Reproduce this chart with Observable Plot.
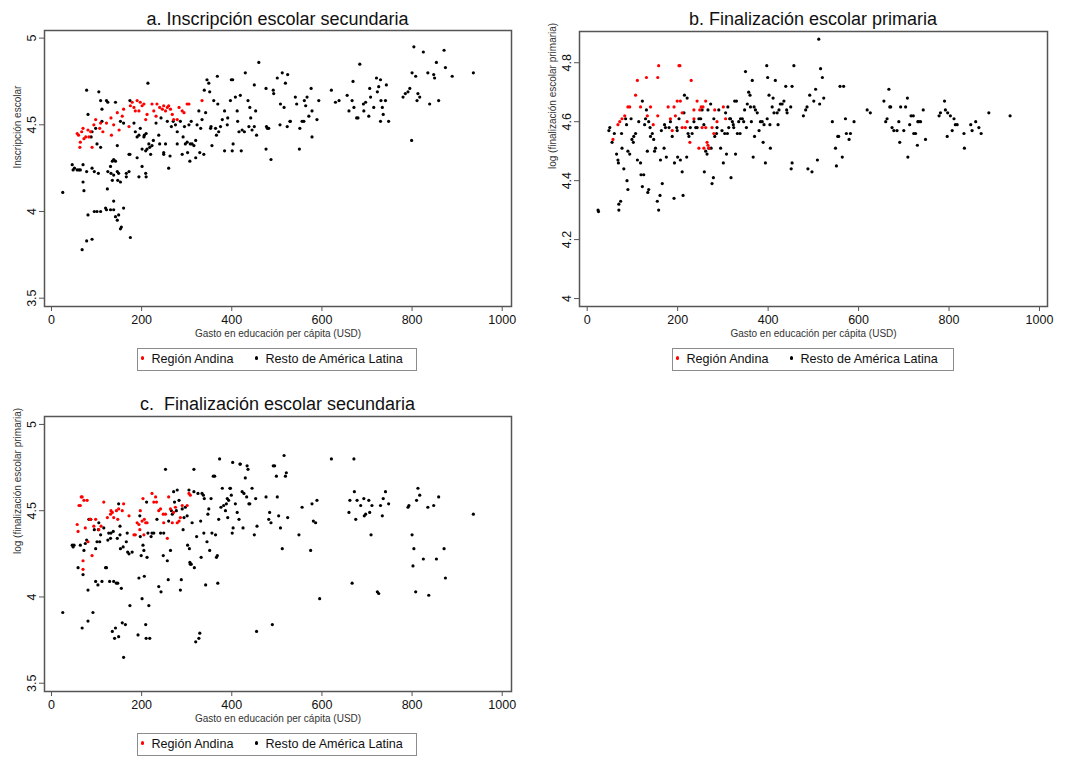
<!DOCTYPE html>
<html><head><meta charset="utf-8">
<script src="https://cdn.jsdelivr.net/npm/d3@7"></script>
<script src="https://cdn.jsdelivr.net/npm/@observablehq/plot@0.6"></script>
<style>
body{margin:0;background:#fff;font-family:"Liberation Sans",Arial,sans-serif;}
#root{position:relative;width:1078px;height:758px;overflow:hidden;background:#fff;}
.title{position:absolute;font-size:18px;line-height:22px;text-align:center;color:#111;white-space:pre;}
.legend{position:absolute;box-sizing:border-box;height:23px;border:1.5px solid #8c8c8c;font-size:12.6px;line-height:20px;color:#111;}
.legend .item{position:absolute;top:0;white-space:nowrap;}
.legend .dot{position:absolute;top:7.3px;width:3.4px;height:3.4px;border-radius:50%;}
</style></head>
<body><div id="root"></div>
<script>
// ---- tick labels / text ----
const xTicks = [0, 200, 400, 600, 800, 1000];
const enrollTicks = [3.5, 4, 4.5, 5];
const primTicks = [4, 4.2, 4.4, 4.6, 4.8];
const titles = ["a. Inscripción escolar secundaria", "b. Finalización escolar primaria", "c.  Finalización escolar secundaria"];
const yLabels = ["Inscripción escolar", "log (finalización escolar primaria)", "log (finalización escolar primaria)"];
const xLabel = "Gasto en educación per cápita (USD)";
const groups = ["Región Andina", "Resto de América Latina"];

// ---- panel a: [gasto USD, valor] ----
const aAndina = [[57,4.45],[60,4.44],[63,4.37],[64,4.40],[67,4.46],[70,4.48],[72,4.42],[76,4.43],[81,4.47],[83,4.43],[87,4.46],[90,4.37],[94,4.50],[98,4.53],[107,4.48],[109,4.51],[114,4.46],[122,4.51],[132,4.54],[133,4.44],[138,4.50],[146,4.57],[150,4.47],[157,4.55],[160,4.59],[172,4.49],[175,4.61],[179,4.63],[183,4.60],[186,4.58],[190,4.64],[194,4.58],[197,4.63],[201,4.61],[205,4.62],[209,4.53],[212,4.56],[223,4.62],[227,4.58],[232,4.55],[234,4.62],[240,4.60],[246,4.59],[249,4.61],[253,4.58],[257,4.60],[260,4.61],[264,4.59],[268,4.56],[271,4.53],[279,4.53],[283,4.60],[290,4.58],[294,4.57],[301,4.62],[305,4.62],[334,4.64]];
const aResto = [[25,4.11],[46,4.27],[48,4.24],[51,4.25],[57,4.24],[61,4.24],[64,4.24],[70,4.17],[72,4.12],[78,4.23],[81,3.98],[78,3.83],[68,3.78],[90,3.84],[95,4.00],[101,4.00],[109,4.00],[120,4.02],[122,4.01],[131,4.01],[138,4.06],[138,4.01],[142,3.97],[146,3.95],[149,3.98],[153,3.90],[155,3.91],[160,4.02],[175,3.85],[124,4.13],[125,4.23],[131,4.26],[135,4.29],[138,4.30],[142,4.29],[132,4.22],[135,4.18],[138,4.21],[146,4.23],[149,4.22],[147,4.18],[153,4.17],[166,4.22],[166,4.20],[172,4.23],[174,4.33],[190,4.31],[194,4.20],[201,4.26],[209,4.22],[210,4.20],[95,4.23],[104,4.22],[90,4.25],[70,4.27],
[78,4.70],[81,4.56],[90,4.46],[88,4.43],[98,4.48],[101,4.39],[105,4.69],[109,4.37],[112,4.59],[112,4.52],[109,4.64],[122,4.64],[125,4.63],[142,4.63],[146,4.38],[153,4.52],[160,4.51],[172,4.33],[174,4.64],[183,4.51],[186,4.46],[190,4.43],[194,4.44],[197,4.48],[201,4.36],[205,4.43],[206,4.44],[209,4.35],[210,4.45],[212,4.36],[216,4.39],[214,4.74],[218,4.37],[223,4.38],[226,4.41],[220,4.33],[232,4.51],[238,4.44],[240,4.39],[243,4.54],[249,4.34],[249,4.33],[253,4.39],[257,4.52],[260,4.25],[263,4.32],[266,4.49],[270,4.52],[275,4.50],[279,4.46],[279,4.39],[286,4.52],[290,4.33],[292,4.43],[295,4.49],[297,4.39],[301,4.40],[302,4.34],[305,4.50],[307,4.29],[308,4.39],[310,4.52],[312,4.39],[316,4.38],[320,4.41],[320,4.31],[323,4.50],[327,4.58],[329,4.34],[331,4.48],[334,4.53],[338,4.33],[339,4.70],[342,4.57],[345,4.76],[349,4.74],[351,4.69],[353,4.48],[354,4.49],[356,4.38],[360,4.64],[364,4.48],[366,4.44],[368,4.78],[369,4.62],[371,4.46],[375,4.49],[379,4.53],[384,4.58],[384,4.35],[390,4.50],[391,4.54],[397,4.64],[399,4.76],[401,4.35],[402,4.76],[403,4.39],[408,4.66],[412,4.58],[413,4.52],[416,4.46],[419,4.67],[421,4.35],[423,4.47],[428,4.46],[430,4.80],[436,4.64],[438,4.49],[440,4.60],[442,4.54],[445,4.47],[450,4.49],[450,4.73],[453,4.58],[455,4.44],[460,4.86],[476,4.71],[477,4.49],[479,4.48],[482,4.48],[476,4.36],[487,4.30],[492,4.70],[493,4.68],[501,4.77],[507,4.50],[508,4.62],[512,4.80],[516,4.60],[519,4.74],[524,4.79],[523,4.49],[529,4.52],[530,4.52],[541,4.66],[544,4.62],[550,4.36],[551,4.48],[556,4.52],[560,4.52],[561,4.64],[564,4.61],[567,4.66],[571,4.55],[576,4.71],[578,4.43],[578,4.58],[589,4.53],[593,4.64],[621,4.70],[630,4.63],[638,4.64],[656,4.67],[660,4.58],[667,4.64],[669,4.75],[671,4.60],[677,4.54],[680,4.54],[684,4.85],[692,4.62],[693,4.58],[697,4.63],[704,4.55],[706,4.71],[708,4.66],[715,4.60],[721,4.77],[723,4.69],[726,4.72],[730,4.76],[731,4.64],[734,4.60],[736,4.56],[730,4.52],[741,4.64],[743,4.73],[748,4.52],[780,4.66],[785,4.68],[791,4.69],[795,4.71],[799,4.41],[800,4.80],[804,4.95],[808,4.78],[811,4.64],[813,4.68],[817,4.66],[825,4.92],[835,4.80],[839,4.62],[848,4.79],[850,4.77],[854,4.86],[859,4.64],[871,4.93],[874,4.83],[889,4.78],[936,4.80]];

// ---- panel b ----
const bAndina = [[57,4.54],[68,4.59],[72,4.60],[77,4.61],[83,4.62],[90,4.65],[94,4.65],[107,4.69],[111,4.74],[118,4.65],[131,4.75],[133,4.62],[140,4.65],[146,4.59],[156,4.75],[158,4.79],[156,4.62],[179,4.65],[184,4.61],[188,4.57],[192,4.65],[195,4.62],[199,4.67],[203,4.79],[205,4.79],[206,4.67],[210,4.63],[210,4.58],[217,4.58],[221,4.60],[227,4.53],[230,4.74],[236,4.64],[236,4.61],[243,4.67],[247,4.51],[249,4.64],[252,4.65],[254,4.58],[256,4.65],[258,4.51],[262,4.67],[262,4.58],[265,4.53],[267,4.52],[269,4.51],[276,4.58],[280,4.56],[282,4.64],[287,4.60],[301,4.65],[306,4.61]];
const bResto = [[24,4.30],[25,4.295],[48,4.57],[50,4.58],[55,4.53],[60,4.56],[65,4.49],[68,4.47],[69,4.46],[70,4.32],[70,4.30],[74,4.33],[76,4.56],[77,4.51],[81,4.44],[85,4.61],[87,4.59],[88,4.40],[90,4.37],[90,4.50],[94,4.49],[97,4.61],[99,4.54],[102,4.53],[103,4.55],[107,4.56],[111,4.47],[114,4.60],[118,4.46],[119,4.42],[122,4.38],[122,4.67],[125,4.42],[127,4.59],[129,4.61],[131,4.64],[133,4.50],[134,4.36],[136,4.37],[136,4.60],[139,4.58],[140,4.55],[144,4.56],[147,4.54],[149,4.50],[151,4.51],[155,4.33],[158,4.30],[161,4.35],[162,4.47],[164,4.57],[166,4.39],[170,4.51],[171,4.59],[173,4.58],[175,4.48],[181,4.58],[184,4.60],[188,4.55],[192,4.34],[193,4.46],[198,4.58],[199,4.57],[200,4.48],[203,4.61],[206,4.47],[210,4.43],[212,4.35],[214,4.63],[215,4.69],[220,4.48],[221,4.68],[223,4.56],[225,4.55],[228,4.58],[232,4.56],[236,4.60],[240,4.58],[243,4.58],[247,4.61],[251,4.61],[254,4.64],[258,4.59],[259,4.43],[262,4.50],[265,4.49],[267,4.64],[269,4.51],[273,4.66],[274,4.51],[276,4.39],[279,4.41],[280,4.61],[282,4.55],[286,4.56],[287,4.58],[291,4.64],[295,4.51],[298,4.57],[301,4.46],[304,4.56],[306,4.63],[308,4.49],[310,4.56],[311,4.65],[313,4.58],[315,4.61],[317,4.61],[318,4.41],[321,4.60],[323,4.59],[324,4.58],[326,4.67],[328,4.49],[330,4.67],[332,4.56],[335,4.60],[338,4.56],[339,4.61],[343,4.61],[346,4.60],[348,4.64],[350,4.77],[352,4.58],[354,4.66],[357,4.70],[360,4.69],[361,4.65],[363,4.60],[365,4.74],[367,4.48],[369,4.65],[370,4.55],[372,4.64],[376,4.63],[380,4.57],[383,4.60],[387,4.60],[389,4.53],[391,4.59],[394,4.46],[397,4.79],[398,4.61],[399,4.75],[402,4.69],[404,4.59],[405,4.51],[409,4.65],[411,4.68],[413,4.63],[416,4.74],[420,4.63],[422,4.59],[424,4.64],[427,4.66],[431,4.66],[435,4.67],[439,4.72],[441,4.64],[442,4.63],[450,4.65],[451,4.44],[453,4.46],[457,4.79],[453,4.72],[478,4.62],[483,4.64],[486,4.65],[492,4.69],[488,4.44],[497,4.43],[501,4.67],[505,4.71],[509,4.47],[512,4.88],[514,4.66],[516,4.78],[520,4.75],[523,4.68],[542,4.60],[549,4.51],[551,4.45],[554,4.55],[556,4.55],[559,4.72],[564,4.48],[567,4.72],[571,4.61],[573,4.56],[579,4.54],[582,4.56],[590,4.60],[619,4.64],[626,4.63],[656,4.67],[660,4.60],[663,4.61],[667,4.71],[669,4.65],[671,4.65],[674,4.58],[678,4.57],[685,4.57],[689,4.60],[691,4.53],[693,4.65],[700,4.57],[704,4.65],[708,4.68],[709,4.48],[713,4.59],[716,4.62],[721,4.62],[722,4.56],[726,4.56],[730,4.52],[731,4.60],[733,4.60],[737,4.60],[743,4.64],[748,4.54],[778,4.62],[781,4.63],[790,4.67],[792,4.64],[796,4.55],[797,4.63],[803,4.62],[807,4.57],[811,4.61],[814,4.59],[818,4.59],[833,4.56],[834,4.51],[848,4.59],[851,4.57],[859,4.60],[866,4.58],[871,4.56],[888,4.63],[935,4.62]];

// ---- panel c ----
const cAndina = [[57,4.42],[59,4.38],[61,4.53],[64,4.53],[66,4.58],[68,4.58],[70,4.16],[70,4.21],[72,4.56],[75,4.40],[79,4.56],[81,4.32],[85,4.45],[87,4.45],[90,4.24],[94,4.41],[98,4.45],[105,4.39],[110,4.41],[116,4.55],[124,4.46],[131,4.48],[132,4.50],[135,4.49],[138,4.46],[144,4.50],[147,4.45],[149,4.51],[157,4.50],[160,4.54],[172,4.47],[183,4.36],[186,4.36],[190,4.43],[194,4.42],[196,4.39],[197,4.50],[201,4.44],[203,4.57],[205,4.36],[206,4.45],[209,4.43],[212,4.43],[223,4.60],[227,4.55],[231,4.58],[233,4.55],[238,4.50],[242,4.51],[248,4.48],[249,4.43],[253,4.48],[257,4.34],[260,4.58],[264,4.51],[268,4.43],[271,4.49],[275,4.52],[279,4.43],[283,4.44],[286,4.46],[290,4.53],[301,4.53],[305,4.60],[308,4.59]];
const cResto = [[25,3.91],[46,4.30],[48,4.29],[50,4.30],[59,4.17],[64,4.30],[68,3.82],[70,4.13],[72,4.27],[75,4.31],[78,4.33],[81,3.86],[81,4.04],[83,4.45],[87,4.45],[92,3.91],[95,4.39],[98,4.28],[98,4.09],[101,4.32],[103,4.07],[104,4.39],[105,4.43],[107,4.32],[109,4.36],[112,4.09],[116,4.40],[120,4.17],[122,4.17],[125,4.33],[127,4.37],[129,4.09],[131,4.34],[132,4.37],[135,3.80],[137,4.38],[138,4.09],[140,3.76],[142,3.82],[144,4.08],[146,4.34],[147,4.08],[149,3.77],[149,4.54],[152,4.36],[152,4.41],[153,4.28],[155,4.05],[157,3.85],[159,4.29],[160,3.65],[164,3.84],[166,4.32],[168,4.37],[169,4.26],[172,4.25],[174,3.95],[179,4.26],[192,3.78],[194,4.11],[196,4.47],[197,4.35],[199,4.24],[201,3.99],[203,4.30],[205,4.27],[206,4.12],[209,3.84],[210,3.76],[211,4.55],[212,4.23],[214,4.37],[216,3.95],[218,3.76],[221,4.35],[223,4.37],[227,4.37],[234,4.45],[238,4.06],[242,4.37],[243,4.03],[248,4.24],[249,4.37],[253,4.74],[257,4.21],[259,4.10],[260,4.44],[264,4.27],[266,4.50],[268,4.48],[271,4.61],[273,4.55],[277,4.50],[279,4.62],[283,4.56],[286,4.04],[288,4.10],[290,4.51],[292,4.39],[294,4.46],[297,4.52],[301,4.47],[302,4.30],[305,4.62],[306,4.28],[307,4.20],[308,4.19],[310,4.19],[312,4.43],[316,4.61],[316,4.74],[317,4.17],[320,3.74],[322,4.35],[325,4.60],[327,3.76],[329,3.79],[331,4.44],[332,4.23],[334,4.60],[337,4.59],[338,4.37],[339,4.57],[342,4.07],[345,4.32],[347,4.48],[349,4.51],[351,4.27],[354,4.57],[356,4.37],[359,4.70],[362,4.70],[364,4.36],[366,4.23],[368,4.24],[369,4.08],[371,4.45],[373,4.80],[376,4.52],[379,4.63],[382,4.53],[386,4.50],[388,4.54],[390,4.57],[391,4.46],[393,4.56],[396,4.63],[397,4.63],[399,4.59],[401,4.37],[402,4.78],[403,4.40],[408,4.54],[412,4.49],[416,4.45],[418,4.77],[419,4.77],[423,4.61],[425,4.40],[427,4.60],[430,4.69],[433,4.58],[434,4.76],[436,4.74],[438,4.54],[440,4.54],[445,4.63],[450,4.36],[453,4.57],[455,3.80],[456,4.41],[476,4.58],[482,4.45],[484,4.49],[487,4.43],[490,3.84],[492,4.76],[495,4.76],[499,4.70],[501,4.58],[504,4.47],[508,4.40],[512,4.28],[516,4.82],[519,4.70],[521,4.72],[524,4.46],[549,4.36],[556,4.52],[575,4.27],[578,4.54],[581,4.44],[586,4.43],[589,4.56],[595,3.99],[621,4.80],[660,4.49],[662,4.56],[667,4.08],[671,4.80],[672,4.61],[675,4.45],[678,4.56],[686,4.53],[693,4.57],[694,4.47],[697,4.48],[704,4.56],[706,4.49],[709,4.36],[711,4.53],[723,4.03],[726,4.02],[730,4.53],[734,4.47],[736,4.57],[741,4.61],[748,4.54],[791,4.52],[793,4.53],[800,4.36],[802,4.18],[804,4.28],[808,4.03],[810,4.56],[813,4.63],[817,4.59],[825,4.22],[835,4.52],[837,4.01],[848,4.53],[854,4.22],[859,4.58],[871,4.28],[874,4.11],[936,4.48]];

const FONT = '"Liberation Sans", Arial, sans-serif';
const root = document.getElementById("root");

function makePanel(o) {
  const svg = Plot.plot({
    width: o.width, height: o.height,
    marginLeft: o.ml, marginRight: o.mr, marginTop: o.mt, marginBottom: o.mb,
    style: {fontFamily: FONT, fontSize: "12.5px", background: "white", color: "#111", overflow: "visible"},
    x: {domain: o.xDomain},
    y: {domain: o.yDomain},
    marks: [
      Plot.axisX({ticks: xTicks, tickSize: 5, tickPadding: 4, stroke: "#555", label: null, tickFormat: d => String(d)}),
      Plot.axisY({ticks: o.yTicks, tickSize: 5, tickPadding: 4, tickRotate: -90, stroke: "#555", label: null, tickFormat: d => String(d)}),
      Plot.text([xLabel], {text: d => d, frameAnchor: "bottom", dy: 30, fontSize: 10, fill: "#333"}),
      Plot.text([o.yLabel], {text: d => d, frameAnchor: "left", dx: -27, rotate: -90, fontSize: 10, fill: "#333"}),
      Plot.dot(o.resto, {x: d => d[0], y: d => d[1], r: 1.6, fill: "#000"}),
      Plot.dot(o.andina, {x: d => d[0], y: d => d[1], r: 1.6, fill: "#ff0000"}),
      Plot.frame({stroke: "#555", strokeWidth: 1.5})
    ]
  });
  svg.style.position = "absolute";
  svg.style.left = o.left + "px";
  svg.style.top = o.top + "px";
  root.appendChild(svg);

  const t = document.createElement("div");
  t.className = "title";
  t.textContent = o.title;
  t.style.left = (o.left + o.ml) + "px";
  t.style.width = (o.width - o.ml - o.mr) + "px";
  t.style.top = o.titleTop + "px";
  root.appendChild(t);

  const lg = document.createElement("div");
  lg.className = "legend";
  lg.style.left = o.lgLeft + "px";
  lg.style.top = o.lgTop + "px";
  lg.style.width = o.lgWidth + "px";
  const items = [[groups[0], "#ff0000", 4.6, 13.5], [groups[1], "#000", 118.5, 127.5]];
  for (const [label, color, dx, tx] of items) {
    const dot = document.createElement("div");
    dot.className = "dot";
    dot.style.left = (dx - 1.7) + "px";
    dot.style.background = color;
    lg.appendChild(dot);
    const s = document.createElement("div");
    s.className = "item";
    s.style.left = tx + "px";
    s.textContent = label;
    lg.appendChild(s);
  }
  root.appendChild(lg);
}

makePanel({andina: aAndina, resto: aResto, xDomain: [-15.5, 1020.6], yDomain: [3.452, 5.044], yTicks: enrollTicks,
  yLabel: yLabels[0], title: titles[0], left: 0, top: 28, width: 520, height: 320, ml: 44, mr: 9, mt: 2, mb: 42,
  titleTop: 8, lgLeft: 137, lgTop: 348, lgWidth: 280});
makePanel({andina: bAndina, resto: bResto, xDomain: [-17, 1017.7], yDomain: [3.973, 4.906], yTicks: primTicks,
  yLabel: yLabels[1], title: titles[1], left: 540, top: 28, width: 520, height: 320, ml: 39, mr: 13, mt: 3, mb: 42,
  titleTop: 8, lgLeft: 672, lgTop: 348, lgWidth: 282});
makePanel({andina: cAndina, resto: cResto, xDomain: [-15.5, 1020.6], yDomain: [3.452, 5.046], yTicks: enrollTicks,
  yLabel: yLabels[2], title: titles[2], left: 0, top: 413, width: 520, height: 320, ml: 44, mr: 9, mt: 3, mb: 42,
  titleTop: 393, lgLeft: 137, lgTop: 733, lgWidth: 280});
</script>
</body></html>
